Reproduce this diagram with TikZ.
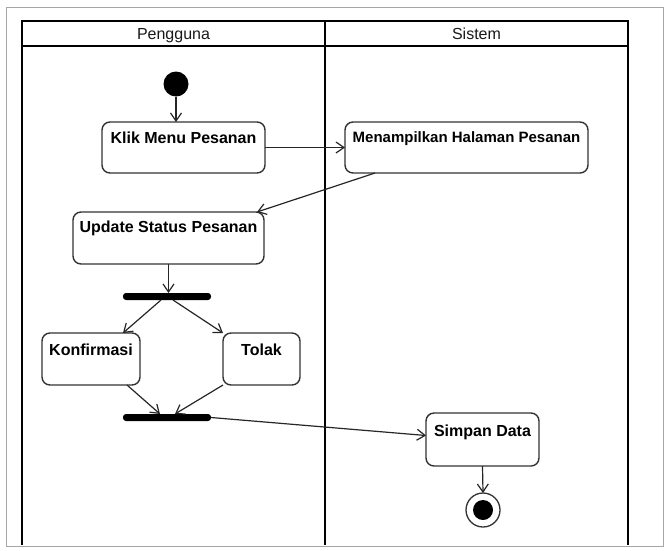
\documentclass[tikz,border=0pt]{standalone}
\usepackage{fontspec}
\setmainfont{Liberation Sans}
\usetikzlibrary{arrows.meta}
\tikzset{
  act/.style={draw=black!80, line width=1.4pt, rounded corners=8pt, fill=white, rectangle, inner sep=0pt, outer sep=0pt},
  lbl/.style={font=\fontsize{16}{19}\selectfont\bfseries, text=black, inner sep=0pt, anchor=base},
  hdr/.style={font=\fontsize{16}{19}\selectfont, text=black!90, inner sep=0pt, anchor=base},
  barnode/.style={fill=black, rounded corners=3pt, rectangle, inner sep=0pt, outer sep=0pt, minimum width=88pt, minimum height=7pt},
  lane/.style={line width=2.8pt, black},
  arr/.style={draw=black!85, line width=1.2pt, -{Straight Barb[length=8pt,width=11pt,line width=1.2pt]}},
}
\begin{document}
\begin{tikzpicture}[x=1pt,y=-1pt]
\useasboundingbox (0,0) rectangle (668,550);
% outer frame
\draw[gray!70, line width=1pt] (6,7) rectangle (663,546);
% swimlanes
\draw[lane] (22,21) rectangle (628,46);
\draw[lane] (22,21) -- (22,545);
\draw[lane] (325,21) -- (325,545);
\draw[lane] (628,21) -- (628,545);
\node[hdr] (h1) at (173.5,39) {Pengguna};
\node[hdr] (h2) at (476.5,39) {Sistem};
% initial node
\node[circle, fill=black, minimum size=25pt, inner sep=0pt, outer sep=0pt] (init) at (176,84) {};
% activities
\node[act, minimum width=163pt, minimum height=51pt] (klik) at (183.5,147.5) {};
\node[lbl] (klikt) at ([yshift=-21pt]klik.north) {Klik Menu Pesanan};
\node[act, minimum width=243pt, minimum height=51pt] (men) at (466.5,147.5) {};
\node[lbl, font=\fontsize{15}{18}\selectfont\bfseries] (ment) at ([yshift=-20pt]men.north) {Menampilkan Halaman Pesanan};
\node[act, minimum width=191pt, minimum height=52pt] (upd) at (168.5,238) {};
\node[lbl] (updt) at ([yshift=-20pt]upd.north) {Update Status Pesanan};
\node[barnode] (fork) at (167,296.5) {};
\node[act, minimum width=98pt, minimum height=52pt] (konf) at (91,359) {};
\node[lbl] (konft) at ([yshift=-22pt]konf.north) {Konfirmasi};
\node[act, minimum width=77pt, minimum height=52pt] (tolak) at (261.5,359) {};
\node[lbl] (tolakt) at ([yshift=-22pt]tolak.north) {Tolak};
\node[barnode] (join) at (167,417.5) {};
\node[act, minimum width=113pt, minimum height=53pt] (simpan) at (482.5,439.5) {};
\node[lbl] (simpant) at ([yshift=-23pt]simpan.north) {Simpan Data};
% final node
\node[circle, draw=black!80, line width=1.3pt, fill=white, minimum size=34pt, inner sep=0pt, outer sep=0pt] (final) at (483,510) {};
\node[circle, fill=black, minimum size=20pt, inner sep=0pt] (finalin) at (final) {};
% connectors
\draw[arr] (init.south) -- (init.south |- klik.north);
\draw[arr] (klik.east) -- (men.west);
\draw[arr] ([xshift=30pt]men.south west) -- ([xshift=-7pt]upd.north east);
\draw[arr] (upd.south) -- (upd.south |- fork.north);
\draw[arr] ([xshift=-6pt]fork.south) -- ([xshift=-17pt]konf.north east);
\draw[arr] ([xshift=6pt]fork.south) -- (tolak.north west);
\draw[arr] ([xshift=-13pt]konf.south east) -- ([xshift=-7pt]join.north);
\draw[arr] (tolak.south west) -- ([xshift=8pt]join.north);
\draw[arr] (join.east) -- ([yshift=4pt]simpan.west);
\draw[arr] (simpan.south) -- (final.north);
\end{tikzpicture}
\end{document}
